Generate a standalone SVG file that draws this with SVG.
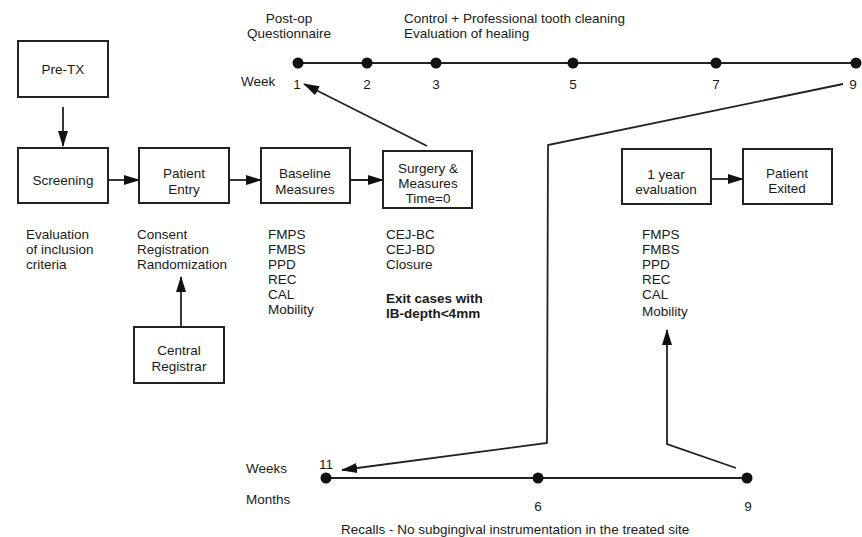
<svg xmlns="http://www.w3.org/2000/svg" width="862" height="537" viewBox="0 0 862 537">
<style>
text{font-family:"Liberation Sans",Arial,sans-serif;font-size:13.5px;fill:#1a1a1a}
.c{text-anchor:middle}
.b{font-weight:bold}
.box{fill:#fff;stroke:#222;stroke-width:2}
.ln{fill:none;stroke:#222;stroke-width:1.8}
.dot{fill:#111}
</style>
<defs>
<marker id="ah" markerUnits="userSpaceOnUse" markerWidth="16" markerHeight="12" viewBox="0 0 16 12" refX="15" refY="6" orient="auto">
<path d="M0,1 L16,6 L0,11 Z" fill="#111"/>
</marker>
</defs>
<rect width="862" height="537" fill="#fff"/>

<g id="connectors">
<line class="ln" x1="63" y1="107" x2="63" y2="146" marker-end="url(#ah)"/>
<line class="ln" x1="108" y1="180" x2="139" y2="180" marker-end="url(#ah)"/>
<line class="ln" x1="229" y1="180" x2="261" y2="180" marker-end="url(#ah)"/>
<line class="ln" x1="350" y1="180" x2="383" y2="180" marker-end="url(#ah)"/>
<line class="ln" x1="711" y1="179" x2="743" y2="179" marker-end="url(#ah)"/>
<line class="ln" x1="181" y1="327" x2="181" y2="277" marker-end="url(#ah)"/>
<line class="ln" x1="427" y1="146" x2="304" y2="84" marker-end="url(#ah)"/>
<polyline class="ln" points="843,84 548,145 547,443 342,470" marker-end="url(#ah)"/>
<polyline class="ln" points="736,468 667,444 667,330" marker-end="url(#ah)"/>
</g>

<g id="timeline-top">
<line class="ln" x1="298" y1="63" x2="856" y2="63"/>
<circle class="dot" cx="298" cy="63" r="5.5"/>
<circle class="dot" cx="367" cy="63" r="5.5"/>
<circle class="dot" cx="436" cy="63" r="5.5"/>
<circle class="dot" cx="573" cy="63" r="5.5"/>
<circle class="dot" cx="716" cy="63" r="5.5"/>
<circle class="dot" cx="856" cy="63" r="5.5"/>
<text x="241" y="86">Week</text>
<text class="c" x="297" y="89">1</text>
<text class="c" x="367" y="89">2</text>
<text class="c" x="436" y="89">3</text>
<text class="c" x="573" y="89">5</text>
<text class="c" x="716" y="89">7</text>
<text class="c" x="853" y="89">9</text>
<text class="c" x="289" y="23">Post-op</text>
<text class="c" x="289" y="38">Questionnaire</text>
<text x="404" y="23">Control + Professional tooth cleaning</text>
<text x="404" y="38">Evaluation of healing</text>
</g>

<g id="timeline-bottom">
<line class="ln" x1="326" y1="478" x2="747" y2="478"/>
<circle class="dot" cx="326" cy="478" r="5.5"/>
<circle class="dot" cx="538" cy="478" r="5.5"/>
<circle class="dot" cx="747" cy="478" r="5.5"/>
<text x="246" y="473">Weeks</text>
<text x="246" y="504">Months</text>
<text class="c" x="326" y="469">11</text>
<text class="c" x="538" y="511">6</text>
<text class="c" x="748" y="511">9</text>
<text x="341" y="534">Recalls - No subgingival instrumentation in the treated site</text>
</g>

<g id="pre-tx">
<rect class="box" x="18" y="41" width="90" height="56"/>
<text class="c" x="63" y="74">Pre-TX</text>
</g>

<g id="screening">
<rect class="box" x="18" y="148" width="90" height="55"/>
<text class="c" x="63" y="185">Screening</text>
<text x="26" y="239">Evaluation</text>
<text x="26" y="254">of inclusion</text>
<text x="26" y="269">criteria</text>
</g>

<g id="patient-entry">
<rect class="box" x="139" y="148" width="90" height="55"/>
<text class="c" x="184" y="178">Patient</text>
<text class="c" x="184" y="194">Entry</text>
<text x="137" y="239">Consent</text>
<text x="137" y="254">Registration</text>
<text x="137" y="269">Randomization</text>
</g>

<g id="central-registrar">
<rect class="box" x="134" y="327" width="90" height="56"/>
<text class="c" x="179" y="355">Central</text>
<text class="c" x="179" y="371">Registrar</text>
</g>

<g id="baseline">
<rect class="box" x="261" y="148" width="89" height="55"/>
<text class="c" x="305" y="178">Baseline</text>
<text class="c" x="305" y="194">Measures</text>
<text x="268" y="239">FMPS</text>
<text x="268" y="254">FMBS</text>
<text x="268" y="269">PPD</text>
<text x="268" y="284">REC</text>
<text x="268" y="299">CAL</text>
<text x="268" y="314">Mobility</text>
</g>

<g id="surgery">
<rect class="box" x="383" y="151" width="89" height="57"/>
<text class="c" x="428" y="173">Surgery &amp;</text>
<text class="c" x="428" y="188">Measures</text>
<text class="c" x="428" y="203">Time=0</text>
<text x="386" y="239">CEJ-BC</text>
<text x="386" y="254">CEJ-BD</text>
<text x="386" y="269">Closure</text>
<text class="b" x="386" y="303">Exit cases with</text>
<text class="b" x="386" y="318">IB-depth&lt;4mm</text>
</g>

<g id="one-year">
<rect class="box" x="622" y="149" width="89" height="55"/>
<text class="c" x="666" y="179">1 year</text>
<text class="c" x="666" y="194">evaluation</text>
<text x="642" y="239">FMPS</text>
<text x="642" y="254">FMBS</text>
<text x="642" y="269">PPD</text>
<text x="642" y="284">REC</text>
<text x="642" y="299">CAL</text>
<text x="642" y="316">Mobility</text>
</g>

<g id="patient-exited">
<rect class="box" x="743" y="149" width="89" height="55"/>
<text class="c" x="787" y="178">Patient</text>
<text class="c" x="787" y="193">Exited</text>
</g>
</svg>
